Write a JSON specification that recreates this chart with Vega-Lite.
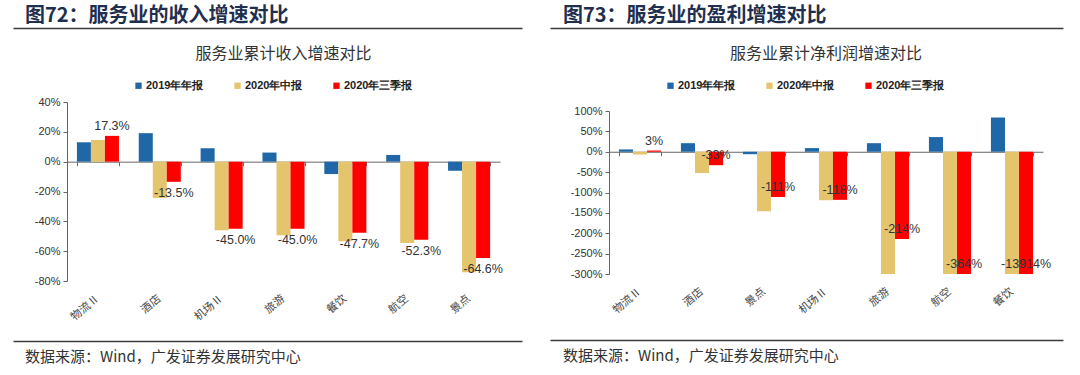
{
  "$schema": "https://vega.github.io/schema/vega-lite/v6.json",
  "padding": {"left": 13, "top": 6, "right": 0, "bottom": 0},
  "config": {
    "view": {"stroke": null},
    "font": "Liberation Sans",
    "locale": {"number": {"decimal": ".", "thousands": ",", "grouping": [3], "currency": ["", ""], "minus": "-"}}
  },
  "datasets": {
    "rev": [
      {"cat": "物流Ⅱ", "s": "2019年年报", "v": 0.130},
      {"cat": "物流Ⅱ", "s": "2020年中报", "v": 0.146},
      {"cat": "物流Ⅱ", "s": "2020年三季报", "v": 0.173},
      {"cat": "酒店", "s": "2019年年报", "v": 0.191},
      {"cat": "酒店", "s": "2020年中报", "v": -0.243},
      {"cat": "酒店", "s": "2020年三季报", "v": -0.135},
      {"cat": "机场Ⅱ", "s": "2019年年报", "v": 0.090},
      {"cat": "机场Ⅱ", "s": "2020年中报", "v": -0.460},
      {"cat": "机场Ⅱ", "s": "2020年三季报", "v": -0.450},
      {"cat": "旅游", "s": "2019年年报", "v": 0.061},
      {"cat": "旅游", "s": "2020年中报", "v": -0.494},
      {"cat": "旅游", "s": "2020年三季报", "v": -0.450},
      {"cat": "餐饮", "s": "2019年年报", "v": -0.083},
      {"cat": "餐饮", "s": "2020年中报", "v": -0.533},
      {"cat": "餐饮", "s": "2020年三季报", "v": -0.477},
      {"cat": "航空", "s": "2019年年报", "v": 0.045},
      {"cat": "航空", "s": "2020年中报", "v": -0.546},
      {"cat": "航空", "s": "2020年三季报", "v": -0.523},
      {"cat": "景点", "s": "2019年年报", "v": -0.061},
      {"cat": "景点", "s": "2020年中报", "v": -0.742},
      {"cat": "景点", "s": "2020年三季报", "v": -0.646}
    ],
    "prof": [
      {"cat": "物流Ⅱ", "s": "2019年年报", "v": 0.057},
      {"cat": "物流Ⅱ", "s": "2020年中报", "v": -0.066},
      {"cat": "物流Ⅱ", "s": "2020年三季报", "v": 0.03},
      {"cat": "酒店", "s": "2019年年报", "v": 0.21},
      {"cat": "酒店", "s": "2020年中报", "v": -0.52},
      {"cat": "酒店", "s": "2020年三季报", "v": -0.33},
      {"cat": "景点", "s": "2019年年报", "v": -0.06},
      {"cat": "景点", "s": "2020年中报", "v": -1.46},
      {"cat": "景点", "s": "2020年三季报", "v": -1.11},
      {"cat": "机场Ⅱ", "s": "2019年年报", "v": 0.09},
      {"cat": "机场Ⅱ", "s": "2020年中报", "v": -1.19},
      {"cat": "机场Ⅱ", "s": "2020年三季报", "v": -1.18},
      {"cat": "旅游", "s": "2019年年报", "v": 0.21},
      {"cat": "旅游", "s": "2020年中报", "v": -3.2},
      {"cat": "旅游", "s": "2020年三季报", "v": -2.14},
      {"cat": "航空", "s": "2019年年报", "v": 0.36},
      {"cat": "航空", "s": "2020年中报", "v": -4.1},
      {"cat": "航空", "s": "2020年三季报", "v": -3.64},
      {"cat": "餐饮", "s": "2019年年报", "v": 0.84},
      {"cat": "餐饮", "s": "2020年中报", "v": -80},
      {"cat": "餐饮", "s": "2020年三季报", "v": -139.14}
    ],
    "line": [{"p": 0}, {"p": 1}]
  },
  "spacing": -26,
  "resolve": {"scale": {"x": "independent", "y": "independent", "xOffset": "independent", "color": "independent"}},
  "hconcat": [
    {
      "concat": [
        {
          "width": 455, "height": 1,
          "title": {"text": "图72：服务业的收入增速对比", "anchor": "start", "fontSize": 20, "fontWeight": "bold", "color": "#1f2f4f", "font": "Noto Sans CJK SC", "offset": 1, "dx": 12},
          "data": {"name": "line"},
          "mark": {"type": "rule", "opacity": 0},
          "encoding": {"x": {"field": "p", "type": "quantitative", "scale": {"domain": [0, 1], "range": [0, 509], "nice": false}, "axis": {"orient": "bottom", "position": -54, "domain": true, "domainColor": "#3a3a3a", "domainWidth": 1.5, "ticks": false, "labels": false, "grid": false, "title": null}}}
        },
        {
          "width": 433, "height": 179,
          "title": {"text": "服务业累计收入增速对比", "anchor": "middle", "fontSize": 16, "fontWeight": "normal", "color": "#333333", "font": "Noto Sans CJK SC", "offset": 18},
          "data": {"name": "rev"},
          "resolve": {"axis": {"x": "independent"}},
          "encoding": {
            "xOffset": {"field": "s", "type": "nominal", "scale": {"domain": ["2019年年报", "2020年中报", "2020年三季报"], "paddingInner": 0, "paddingOuter": 0}},
            "y": {"field": "v", "type": "quantitative", "scale": {"domain": [-0.8, 0.4], "nice": false, "clamp": true},
              "axis": {"format": ".0%", "values": [-0.8, -0.6, -0.4, -0.2, 0, 0.2, 0.4], "labelOverlap": false, "tickSize": 4, "tickColor": "#666666", "domainColor": "#666666", "labelFontSize": 11, "labelColor": "#333333", "labelFont": "Liberation Sans", "grid": false, "title": null, "labelPadding": 3, "minExtent": 54}}
          },
          "layer": [
            {
              "mark": {"type": "bar"},
              "encoding": {
                "x": {"field": "cat", "type": "nominal", "sort": ["物流Ⅱ", "酒店", "机场Ⅱ", "旅游", "餐饮", "航空", "景点"], "scale": {"paddingInner": 0.32, "paddingOuter": 0.16},
                  "axis": {"orient": "bottom", "offset": -119.33, "labels": false, "ticks": true, "tickBand": "extent", "tickSize": 4, "tickColor": "#666666", "domainColor": "#666666", "title": null, "grid": false}},
                "color": {"field": "s", "type": "nominal", "scale": {"domain": ["2019年年报", "2020年中报", "2020年三季报"], "range": ["#1F67A6", "#E4C46C", "#FF0000"]},
                  "legend": {"orient": "none", "legendX": 66, "legendY": -22, "direction": "horizontal", "title": null, "symbolType": "square", "symbolSize": 40, "symbolStrokeWidth": 0, "labelFontSize": 11, "labelFont": "Liberation Sans", "labelFontWeight": "bold", "labelColor": "#222222", "columnPadding": 28, "labelOffset": 2}}
              }
            },
            {
              "transform": [{"filter": "datum.s == '2020年三季报' && datum.v >= 0"}],
              "mark": {"type": "text", "baseline": "bottom", "dy": -3, "fontSize": 12.5, "color": "#333333", "font": "Liberation Sans"},
              "encoding": {
                "x": {"field": "cat", "type": "nominal", "sort": ["物流Ⅱ", "酒店", "机场Ⅱ", "旅游", "餐饮", "航空", "景点"],
                  "axis": {"orient": "bottom", "domain": false, "ticks": false, "labelAngle": -40, "labelAlign": "right", "labelBaseline": "middle", "labelFont": "Noto Sans CJK SC", "labelFontSize": 11, "labelColor": "#444444", "labelPadding": 16, "title": null, "grid": false, "minExtent": 41}},
                "text": {"field": "v", "type": "quantitative", "format": ".1%"}
              }
            },
            {
              "transform": [{"filter": "datum.s == '2020年三季报' && datum.v < 0"}],
              "mark": {"type": "text", "baseline": "top", "dy": 5, "fontSize": 12.5, "color": "#333333", "font": "Liberation Sans"},
              "encoding": {
                "x": {"field": "cat", "type": "nominal", "sort": ["物流Ⅱ", "酒店", "机场Ⅱ", "旅游", "餐饮", "航空", "景点"], "axis": null},
                "text": {"field": "v", "type": "quantitative", "format": ".1%"}
              }
            }
          ]
        },
        {
          "width": 455, "height": 1,
          "title": {"text": "数据来源：Wind，广发证券发展研究中心", "orient": "bottom", "anchor": "start", "fontSize": 15, "fontWeight": "normal", "color": "#333333", "font": "Noto Sans CJK SC", "offset": 8, "dx": 12},
          "data": {"name": "line"},
          "mark": {"type": "rule", "opacity": 0},
          "encoding": {"x": {"field": "p", "type": "quantitative", "scale": {"domain": [0, 1], "range": [0, 509], "nice": false}, "axis": {"orient": "top", "position": -54, "domain": true, "domainColor": "#3a3a3a", "domainWidth": 1.5, "ticks": false, "labels": false, "grid": false, "title": null}}}
        }
      ],
      "columns": 1,
      "align": "none",
      "spacing": 18,
      "resolve": {"scale": {"x": "independent", "y": "independent", "xOffset": "independent", "color": "independent"}}
    },
    {
      "concat": [
        {
          "width": 454, "height": 1,
          "title": {"text": "图73：服务业的盈利增速对比", "anchor": "start", "fontSize": 20, "fontWeight": "bold", "color": "#1f2f4f", "font": "Noto Sans CJK SC", "offset": 1, "dx": 13},
          "data": {"name": "line"},
          "mark": {"type": "rule", "opacity": 0},
          "encoding": {"x": {"field": "p", "type": "quantitative", "scale": {"domain": [0, 1], "range": [0, 513], "nice": false}, "axis": {"orient": "bottom", "position": -59, "domain": true, "domainColor": "#3a3a3a", "domainWidth": 1.5, "ticks": false, "labels": false, "grid": false, "title": null}}}
        },
        {
          "width": 434, "height": 163,
          "title": {"text": "服务业累计净利润增速对比", "anchor": "middle", "fontSize": 16, "fontWeight": "normal", "color": "#333333", "font": "Noto Sans CJK SC", "offset": 18},
          "data": {"name": "prof"},
          "resolve": {"axis": {"x": "independent"}},
          "encoding": {
            "xOffset": {"field": "s", "type": "nominal", "scale": {"domain": ["2019年年报", "2020年中报", "2020年三季报"], "paddingInner": 0, "paddingOuter": 0}},
            "y": {"field": "v", "type": "quantitative", "scale": {"domain": [-3, 1], "nice": false, "clamp": true},
              "axis": {"format": ".0%", "values": [-3, -2.5, -2, -1.5, -1, -0.5, 0, 0.5, 1], "labelOverlap": false, "tickSize": 4, "tickColor": "#666666", "domainColor": "#666666", "labelFontSize": 11, "labelColor": "#333333", "labelFont": "Liberation Sans", "grid": false, "title": null, "labelPadding": 3, "minExtent": 59}}
          },
          "layer": [
            {
              "mark": {"type": "bar"},
              "encoding": {
                "x": {"field": "cat", "type": "nominal", "sort": ["物流Ⅱ", "酒店", "景点", "机场Ⅱ", "旅游", "航空", "餐饮"], "scale": {"paddingInner": 0.32, "paddingOuter": 0.16},
                  "axis": {"orient": "bottom", "offset": -122.25, "labels": false, "ticks": true, "tickBand": "extent", "tickSize": 4, "tickColor": "#666666", "domainColor": "#666666", "title": null, "grid": false}},
                "color": {"field": "s", "type": "nominal", "scale": {"domain": ["2019年年报", "2020年中报", "2020年三季报"], "range": ["#1F67A6", "#E4C46C", "#FF0000"]},
                  "legend": {"orient": "none", "legendX": 56, "legendY": -31, "direction": "horizontal", "title": null, "symbolType": "square", "symbolSize": 40, "symbolStrokeWidth": 0, "labelFontSize": 11, "labelFont": "Liberation Sans", "labelFontWeight": "bold", "labelColor": "#222222", "columnPadding": 28, "labelOffset": 2}}
              }
            },
            {
              "transform": [{"filter": "datum.s == '2020年三季报'"}],
              "mark": {"type": "text", "baseline": "bottom", "dy": -3, "fontSize": 12.5, "color": "#333333", "font": "Liberation Sans"},
              "encoding": {
                "x": {"field": "cat", "type": "nominal", "sort": ["物流Ⅱ", "酒店", "景点", "机场Ⅱ", "旅游", "航空", "餐饮"],
                  "axis": {"orient": "bottom", "domain": false, "ticks": false, "labelAngle": -40, "labelAlign": "right", "labelBaseline": "middle", "labelFont": "Noto Sans CJK SC", "labelFontSize": 11, "labelColor": "#444444", "labelPadding": 16, "title": null, "grid": false, "minExtent": 48}},
                "text": {"field": "v", "type": "quantitative", "format": ".0%"}
              }
            }
          ]
        },
        {
          "width": 454, "height": 1,
          "title": {"text": "数据来源：Wind，广发证券发展研究中心", "orient": "bottom", "anchor": "start", "fontSize": 15, "fontWeight": "normal", "color": "#333333", "font": "Noto Sans CJK SC", "offset": 8, "dx": 13},
          "data": {"name": "line"},
          "mark": {"type": "rule", "opacity": 0},
          "encoding": {"x": {"field": "p", "type": "quantitative", "scale": {"domain": [0, 1], "range": [0, 513], "nice": false}, "axis": {"orient": "top", "position": -59, "domain": true, "domainColor": "#3a3a3a", "domainWidth": 1.5, "ticks": false, "labels": false, "grid": false, "title": null}}}
        }
      ],
      "columns": 1,
      "align": "none",
      "spacing": 18,
      "resolve": {"scale": {"x": "independent", "y": "independent", "xOffset": "independent", "color": "independent"}}
    }
  ]
}
